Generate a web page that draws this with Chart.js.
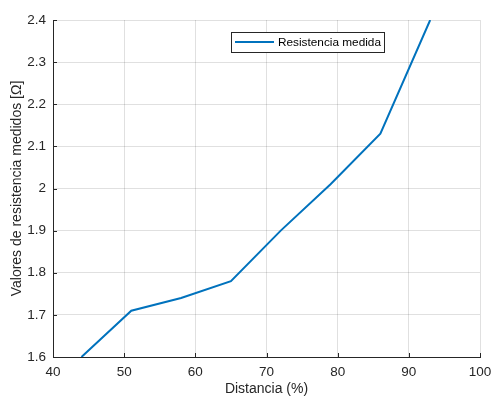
<!DOCTYPE html>
<html>
<head>
<meta charset="utf-8">
<script src="https://cdn.jsdelivr.net/npm/chart.js@4"></script>
<style>
  html, body { margin: 0; padding: 0; background: #fff; }
  #wrap { width: 491px; height: 396px; }
</style>
</head>
<body>
<div id="wrap"><canvas id="c" width="491" height="396"></canvas></div>
<script>
// Measured resistance against distance
const distancia = [44, 51, 58, 65, 72, 79, 86, 93];
const resistencia = [1.60, 1.71, 1.74, 1.78, 1.90, 2.01, 2.13, 2.40];
const xTicks = [40, 50, 60, 70, 80, 90, 100];
const yTicks = [1.6, 1.7, 1.8, 1.9, 2.0, 2.1, 2.2, 2.3, 2.4];
const serieLabel = 'Resistencia medida';

const AXIS = '#262626';
const FONT = 'Liberation Sans, Arial, Helvetica, sans-serif';

// Inward tick marks on the left and bottom axes
const innerTicks = {
  id: 'innerTicks',
  afterDraw(chart) {
    const { ctx, chartArea: a, scales: { x, y } } = chart;
    ctx.save();
    ctx.strokeStyle = AXIS;
    ctx.lineWidth = 1;
    ctx.beginPath();
    xTicks.forEach(v => {
      const px = Math.round(x.getPixelForValue(v)) + 0.5;
      ctx.moveTo(px, a.bottom);
      ctx.lineTo(px, a.bottom - 4);
    });
    yTicks.forEach(v => {
      const py = Math.round(y.getPixelForValue(v)) + 0.5;
      ctx.moveTo(a.left, py);
      ctx.lineTo(a.left + 4, py);
    });
    ctx.stroke();
    ctx.restore();
  }
};

// Boxed legend inside the plot area
const boxLegend = {
  id: 'boxLegend',
  afterDraw(chart) {
    const { ctx } = chart;
    const ds = chart.data.datasets[0];
    const x0 = 231.5, y0 = 32.5, w = 153, h = 20;
    ctx.save();
    ctx.fillStyle = '#ffffff';
    ctx.fillRect(x0, y0, w, h);
    ctx.strokeStyle = AXIS;
    ctx.lineWidth = 1;
    ctx.strokeRect(x0, y0, w, h);
    ctx.strokeStyle = ds.borderColor;
    ctx.lineWidth = 2;
    ctx.beginPath();
    ctx.moveTo(235, 42);
    ctx.lineTo(274, 42);
    ctx.stroke();
    ctx.fillStyle = '#000000';
    ctx.font = '11.8px ' + FONT;
    ctx.textBaseline = 'middle';
    ctx.textAlign = 'left';
    ctx.fillText(ds.label, 278, 42.5);
    ctx.restore();
  }
};

new Chart(document.getElementById('c'), {
  type: 'line',
  data: {
    datasets: [{
      label: serieLabel,
      data: distancia.map((d, i) => ({ x: d, y: resistencia[i] })),
      borderColor: '#0072BD',
      borderWidth: 2,
      pointRadius: 0,
      tension: 0,
      fill: false
    }]
  },
  options: {
    responsive: false,
    animation: false,
    layout: { padding: { top: 20, right: 0, left: 0, bottom: 0 } },
    plugins: { legend: { display: false }, tooltip: { enabled: false } },
    scales: {
      x: {
        type: 'linear',
        min: 40, max: 100,
        afterBuildTicks: s => { s.ticks = xTicks.map(v => ({ value: v })); },
        afterFit: s => { s.height = 39; s.paddingRight = 11; s.paddingLeft = 0; },
        grid: { color: 'rgba(0,0,0,0.12)', drawTicks: false },
        border: { color: AXIS, width: 1 },
        ticks: { color: AXIS, font: { family: FONT, size: 13.5 }, padding: 7, maxRotation: 0 },
        title: { display: true, text: 'Distancia (%)', color: AXIS, font: { family: FONT, size: 14, lineHeight: 1 }, padding: { top: 0, bottom: 0 } }
      },
      y: {
        type: 'linear',
        min: 1.6, max: 2.4,
        afterBuildTicks: s => { s.ticks = yTicks.map(v => ({ value: v })); },
        afterFit: s => { s.width = 53; s.paddingTop = 0; s.paddingBottom = 0; },
        grid: { color: 'rgba(0,0,0,0.12)', drawTicks: false },
        border: { color: AXIS, width: 1 },
        ticks: {
          color: AXIS, font: { family: FONT, size: 13.5 }, padding: 7,
          callback: v => String(+Number(v).toFixed(1))
        },
        title: { display: true, text: 'Valores de resistencia medidos [Ω]', color: AXIS, font: { family: FONT, size: 14 }, padding: { top: 9, bottom: 0 } }
      }
    }
  },
  plugins: [innerTicks, boxLegend]
});
</script>
</body>
</html>
